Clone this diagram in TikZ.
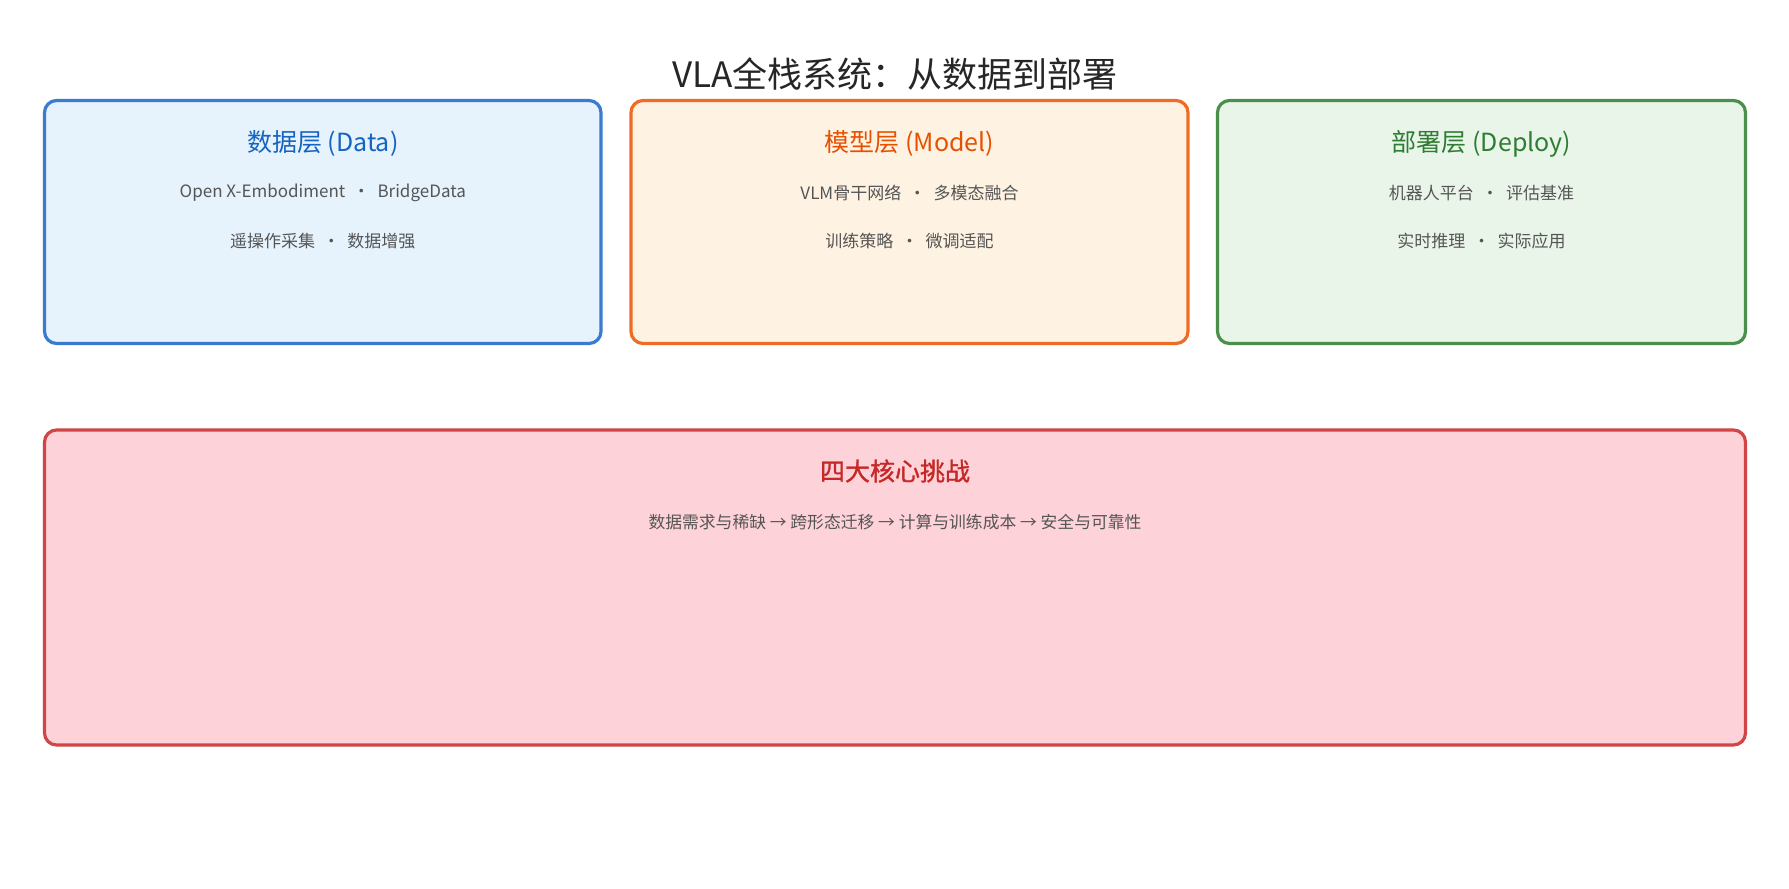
\documentclass[tikz,border=0pt]{standalone}
\usepackage{fontspec}
\newfontfamily\cjk{Noto Sans CJK SC}
\newfontfamily\cjkmed[FakeBold=1.2]{Noto Sans CJK SC}
\definecolor{bluebd}{HTML}{3A7BD0}
\definecolor{bluefill}{HTML}{E6F2FC}
\definecolor{bluetxt}{HTML}{1565C0}
\definecolor{orabd}{HTML}{EE6C25}
\definecolor{orafill}{HTML}{FEF2E2}
\definecolor{oratxt}{HTML}{E65100}
\definecolor{grnbd}{HTML}{4A8F4C}
\definecolor{grnfill}{HTML}{EAF5EA}
\definecolor{grntxt}{HTML}{2E7D32}
\definecolor{redbd}{HTML}{D04545}
\definecolor{redfill}{HTML}{FDD2D8}
\definecolor{redtxt}{HTML}{C62828}
\definecolor{subtxt}{HTML}{555555}
\tikzset{
  layerbox/.style={draw, line width=1.6pt, rounded corners=6pt},
  layertitle/.style={font=\cjk\fontsize{12.5}{14}\selectfont, inner sep=0pt},
  subline/.style={font=\cjk\fontsize{8.5}{10}\selectfont, text=subtxt, inner sep=0pt},
}
\begin{document}
\begin{tikzpicture}[x=0.5pt,y=-0.5pt]
\useasboundingbox[fill=white] (0,0) rectangle (1789,889);
\node[font=\cjk\fontsize{17.5}{20}\selectfont, text=black!85, inner sep=0pt] (title) at (895,74.5) {VLA全栈系统：从数据到部署};

% data layer
\draw[layerbox, draw=bluebd, fill=bluefill] (44.5,100.5) rectangle (601,343.5);
\node[layertitle, text=bluetxt] (t1) at (322.8,143.5) {数据层 (Data)};
\node[subline] (d1) at (322.8,193) {Open X-Embodiment \ · \ BridgeData};
\node[subline] (d2) at (322.8,241) {遥操作采集 \ · \ 数据增强};

% model layer
\draw[layerbox, draw=orabd, fill=orafill] (631,100.5) rectangle (1188,343.5);
\node[layertitle, text=oratxt] (t2) at (909.5,143.5) {模型层 (Model)};
\node[subline] (m1) at (909.5,193) {VLM骨干网络 \ · \ 多模态融合};
\node[subline] (m2) at (909.5,241) {训练策略 \ · \ 微调适配};

% deploy layer
\draw[layerbox, draw=grnbd, fill=grnfill] (1217.5,100.5) rectangle (1745.5,343.5);
\node[layertitle, text=grntxt] (t3) at (1481.5,143.5) {部署层 (Deploy)};
\node[subline] (p1) at (1481.5,193) {机器人平台 \ · \ 评估基准};
\node[subline] (p2) at (1481.5,241) {实时推理 \ · \ 实际应用};

% challenges
\draw[layerbox, draw=redbd, fill=redfill] (44.5,430) rectangle (1745.5,745);
\node[layertitle, text=redtxt, font=\cjkmed\fontsize{12.5}{14}\selectfont] (t4) at (895,471) {四大核心挑战};
\node[subline, font=\cjk\fontsize{8.4}{10}\selectfont] (c1) at (895,522.5) {数据需求与稀缺 → 跨形态迁移 → 计算与训练成本 → 安全与可靠性};
\end{tikzpicture}
\end{document}
